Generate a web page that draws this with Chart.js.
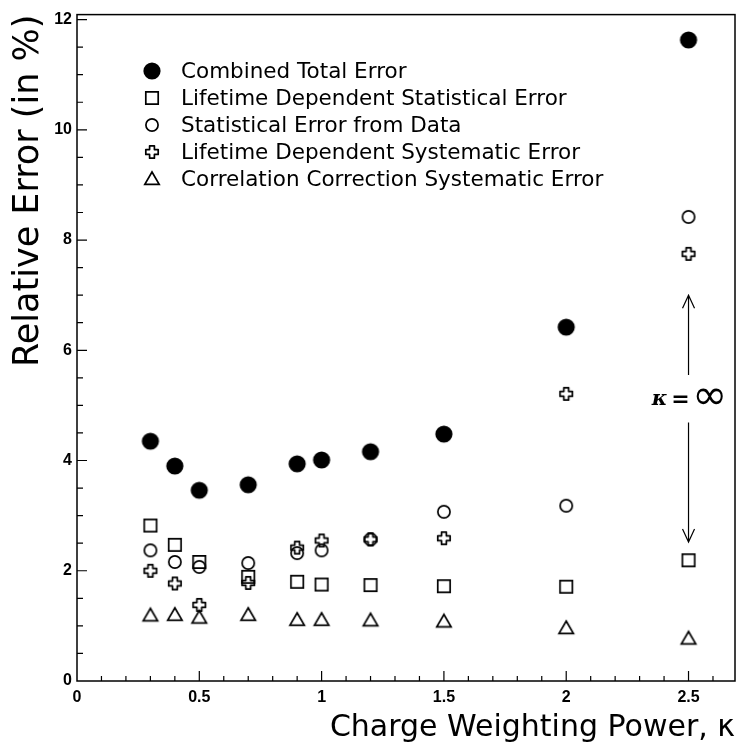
<!DOCTYPE html>
<html>
<head>
<meta charset="utf-8">
<script src="https://cdn.jsdelivr.net/npm/chart.js@4/dist/chart.umd.min.js"></script>
<style>
  html, body { margin: 0; padding: 0; background: #fff; }
  #wrap { width: 740px; height: 747px; }
</style>
</head>
<body>
<div id="wrap"><canvas id="errChart" width="740" height="747"></canvas></div>
<script>
// data
const kappa = [0.3, 0.4, 0.5, 0.7, 0.9, 1.0, 1.2, 1.5, 2.0, 2.5];
const combinedTotal = [4.35, 3.90, 3.46, 3.56, 3.94, 4.01, 4.16, 4.48, 6.42, 11.63];
const lifetimeStat = [2.82, 2.47, 2.16, 1.89, 1.80, 1.75, 1.74, 1.72, 1.71, 2.19];
const statFromData = [2.37, 2.16, 2.07, 2.14, 2.32, 2.37, 2.57, 3.07, 3.18, 8.42];
const lifetimeSyst = [2.00, 1.77, 1.38, 1.78, 2.42, 2.55, 2.57, 2.59, 5.21, 7.75];
const corrSyst = [1.19, 1.20, 1.15, 1.20, 1.11, 1.11, 1.10, 1.08, 0.96, 0.77];

const seriesNames = [
    'Combined Total Error',
    'Lifetime Dependent Statistical Error',
    'Statistical Error from Data',
    'Lifetime Dependent Systematic Error',
    'Correlation Correction Systematic Error'
];

const xTickValues = [0, 0.5, 1, 1.5, 2, 2.5];
const yTickValues = [0, 2, 4, 6, 8, 10, 12];

// the "kappa = infinity" marker at x = 2.5
const infX = 2.5;
const arrowUp = [5.55, 7.0];   // from, tip
const arrowDown = [4.69, 2.52];
const infLabelY = 5.1;

const ink = '#000';

// small canvases used as point styles
function makeMarker(kind) {
    const c = document.createElement('canvas');
    c.width = 22; c.height = 22;
    const g = c.getContext('2d');
    g.strokeStyle = ink;
    g.fillStyle = ink;
    g.lineWidth = 1.7;
    g.translate(11, 11);
    g.beginPath();
    if (kind === 'dot') {
        g.arc(0, 0, 8.6, 0, Math.PI * 2);
        g.fill();
    } else if (kind === 'square') {
        g.rect(-6.2, -6.2, 12.4, 12.4);
        g.stroke();
    } else if (kind === 'ring') {
        g.arc(0, 0, 6.1, 0, Math.PI * 2);
        g.stroke();
    } else if (kind === 'plus') {
        const a = 2.4, b = 6.2;
        g.moveTo(-a, -b); g.lineTo(a, -b); g.lineTo(a, -a); g.lineTo(b, -a);
        g.lineTo(b, a); g.lineTo(a, a); g.lineTo(a, b); g.lineTo(-a, b);
        g.lineTo(-a, a); g.lineTo(-b, a); g.lineTo(-b, -a); g.lineTo(-a, -a);
        g.closePath();
        g.lineJoin = 'round';
        g.stroke();
    } else if (kind === 'tri') {
        g.moveTo(0, -7); g.lineTo(7.2, 5.4); g.lineTo(-7.2, 5.4);
        g.closePath();
        g.stroke();
    }
    return c;
}

const markers = [makeMarker('dot'), makeMarker('square'), makeMarker('ring'), makeMarker('plus'), makeMarker('tri')];
const allValues = [combinedTotal, lifetimeStat, statFromData, lifetimeSyst, corrSyst];

// filled dots drawn on top of the open symbols
const datasets = allValues.map((vals, i) => ({
    label: seriesNames[i],
    data: kappa.map((k, j) => ({ x: k, y: vals[j] })),
    pointStyle: markers[i],
    showLine: false,
    order: i === 0 ? 0 : 1
}));

// frame, inward ticks, legend and the kappa = infinity note
const decorPlugin = {
    id: 'decor',
    afterDraw(chart) {
        const ctx = chart.ctx;
        const a = chart.chartArea;
        const xs = chart.scales.x, ys = chart.scales.y;
        ctx.save();
        ctx.strokeStyle = ink;
        ctx.lineWidth = 1.5;
        ctx.strokeRect(a.left, a.top, a.right - a.left, a.bottom - a.top);

        ctx.lineWidth = 1.2;
        ctx.beginPath();
        for (let i = 1; i <= 26; i++) {
            const px = xs.getPixelForValue(i / 10);
            const len = (i % 5 === 0) ? 10 : 5;
            ctx.moveTo(px, a.bottom);
            ctx.lineTo(px, a.bottom - len);
        }
        for (let i = 1; i <= 24; i++) {
            const py = ys.getPixelForValue(i / 2);
            const len = (i % 4 === 0) ? 10 : 6;
            ctx.moveTo(a.left, py);
            ctx.lineTo(a.left + len, py);
        }
        ctx.stroke();

        // legend
        ctx.font = '21.5px "DejaVu Sans", sans-serif';
        ctx.fillStyle = ink;
        ctx.textBaseline = 'middle';
        ctx.textAlign = 'left';
        const rowY = [71, 98, 125, 152, 179];
        seriesNames.forEach((name, i) => {
            const m = markers[i];
            ctx.drawImage(m, 152 - m.width / 2, rowY[i] - m.height / 2);
            ctx.fillText(name, 181, rowY[i] + 1);
        });

        // kappa = infinity with arrows
        const ax = xs.getPixelForValue(infX);
        ctx.lineWidth = 1.2;
        ctx.beginPath();
        const u0 = ys.getPixelForValue(arrowUp[0]), u1 = ys.getPixelForValue(arrowUp[1]);
        const d0 = ys.getPixelForValue(arrowDown[0]), d1 = ys.getPixelForValue(arrowDown[1]);
        ctx.moveTo(ax, u0); ctx.lineTo(ax, u1);
        ctx.moveTo(ax - 6, u1 + 13); ctx.lineTo(ax, u1); ctx.lineTo(ax + 6, u1 + 13);
        ctx.moveTo(ax, d0); ctx.lineTo(ax, d1);
        ctx.moveTo(ax - 6, d1 - 13); ctx.lineTo(ax, d1); ctx.lineTo(ax + 6, d1 - 13);
        ctx.stroke();

        const ty = ys.getPixelForValue(infLabelY);
        ctx.textAlign = 'right';
        ctx.font = 'bold italic 21px "DejaVu Serif", serif';
        ctx.fillText('\u03BA', ax - 21, ty);
        ctx.textAlign = 'center';
        ctx.font = 'bold 22px "DejaVu Sans", sans-serif';
        ctx.fillText('=', ax - 8, ty);
        ctx.font = '42px "DejaVu Sans", sans-serif';
        ctx.fillText('\u221E', ax + 21, ty - 2);
        ctx.restore();
    }
};

new Chart(document.getElementById('errChart'), {
    type: 'scatter',
    data: { datasets },
    options: {
        responsive: false,
        animation: false,
        events: [],
        layout: { padding: { left: 0, right: 5, top: 8, bottom: 0 } },
        plugins: {
            legend: { display: false },
            tooltip: { enabled: false }
        },
        scales: {
            x: {
                type: 'linear',
                min: 0,
                max: 2.69,
                afterBuildTicks: s => { s.ticks = xTickValues.map(v => ({ value: v })); },
                afterFit: s => { s.height = 66; },
                grid: { display: false, drawTicks: false },
                border: { display: false },
                ticks: {
                    color: ink,
                    padding: 7,
                    maxRotation: 0,
                    font: { family: '"Liberation Sans", Arial, sans-serif', size: 16, weight: 'bold' },
                    callback: v => String(v)
                },
                title: {
                    display: true,
                    text: 'Charge Weighting Power, \u03BA',
                    align: 'end',
                    color: ink,
                    padding: { top: 4, bottom: 1 },
                    font: { family: '"DejaVu Sans", sans-serif', size: 30 }
                }
            },
            y: {
                type: 'linear',
                min: 0,
                max: 12.09,
                afterBuildTicks: s => { s.ticks = yTickValues.map(v => ({ value: v })); },
                afterFit: s => { s.width = 77; },
                grid: { display: false, drawTicks: false },
                border: { display: false },
                ticks: {
                    color: ink,
                    padding: 5,
                    font: { family: '"Liberation Sans", Arial, sans-serif', size: 16, weight: 'bold' },
                    callback: v => String(v)
                },
                title: {
                    display: true,
                    text: 'Relative Error (in %)',
                    align: 'end',
                    color: ink,
                    padding: { top: 8, bottom: 0 },
                    font: { family: '"DejaVu Sans", sans-serif', size: 35 }
                }
            }
        }
    },
    plugins: [decorPlugin]
});
</script>
</body>
</html>
